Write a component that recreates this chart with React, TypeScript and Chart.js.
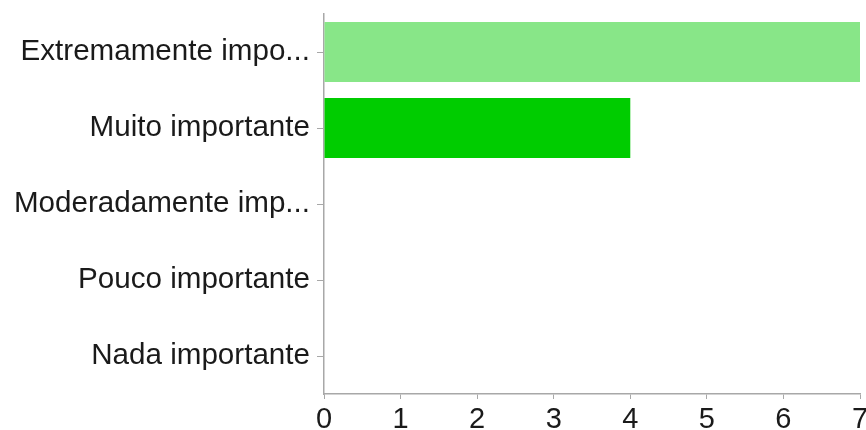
import React, { useEffect, useRef } from "react";
import { Chart, registerables } from "chart.js";

Chart.register(...registerables);

const categories = [
  "Extremamente impo...",
  "Muito importante",
  "Moderadamente imp...",
  "Pouco importante",
  "Nada importante",
];
const counts = [7, 4, 0, 0, 0];
const barColors = ["#88e688", "#00cc00", "#00cc00", "#00cc00", "#00cc00"];
const xMin = 0;
const xMax = 7;

const FONT = "'Liberation Sans', Arial, Helvetica, sans-serif";
const AXIS = "#a8a8a8";

export default function App() {
  const ref = useRef<HTMLCanvasElement | null>(null);

  useEffect(() => {
    if (!ref.current) return;
    const chart = new Chart(ref.current, {
      type: "bar",
      data: {
        labels: categories,
        datasets: [
          {
            data: counts,
            backgroundColor: barColors,
            borderWidth: 0,
            categoryPercentage: 1,
            barPercentage: 0.79,
          },
        ],
      },
      options: {
        indexAxis: "y",
        animation: false,
        responsive: false,
        maintainAspectRatio: false,
        layout: { padding: { top: 14, right: 6, left: 0, bottom: 0 } },
        plugins: {
          legend: { display: false },
          tooltip: { enabled: false },
          title: { display: false },
        },
        scales: {
          x: {
            type: "linear",
            min: xMin,
            max: xMax,
            ticks: {
              stepSize: 1,
              color: "#1a1a1a",
              font: { family: FONT, size: 29 },
              padding: 4,
              maxRotation: 0,
            },
            grid: {
              drawOnChartArea: false,
              drawTicks: true,
              tickLength: 5,
              color: AXIS,
            },
            border: { display: true, color: AXIS, width: 1.5 },
            afterFit: (scale: any) => {
              scale.height = 36;
              scale.paddingLeft = 0;
              scale.paddingRight = 0;
            },
          },
          y: {
            type: "category",
            ticks: {
              color: "#1a1a1a",
              font: { family: FONT, size: 29.6 },
              padding: 7,
            },
            grid: {
              drawOnChartArea: false,
              drawTicks: true,
              tickLength: 7,
              offset: false,
              color: AXIS,
            },
            border: { display: true, color: AXIS, width: 1.5 },
            afterFit: (scale: any) => {
              scale.width = 324;
              scale.paddingTop = 0;
              scale.paddingBottom = 0;
            },
          },
        },
      },
    });
    return () => chart.destroy();
  }, []);

  return (
    <div
      style={{
        position: "fixed",
        left: 0,
        top: 0,
        width: 866,
        height: 430,
        background: "#ffffff",
      }}
    >
      <canvas ref={ref} width={866} height={430} style={{ display: "block" }} />
    </div>
  );
}
